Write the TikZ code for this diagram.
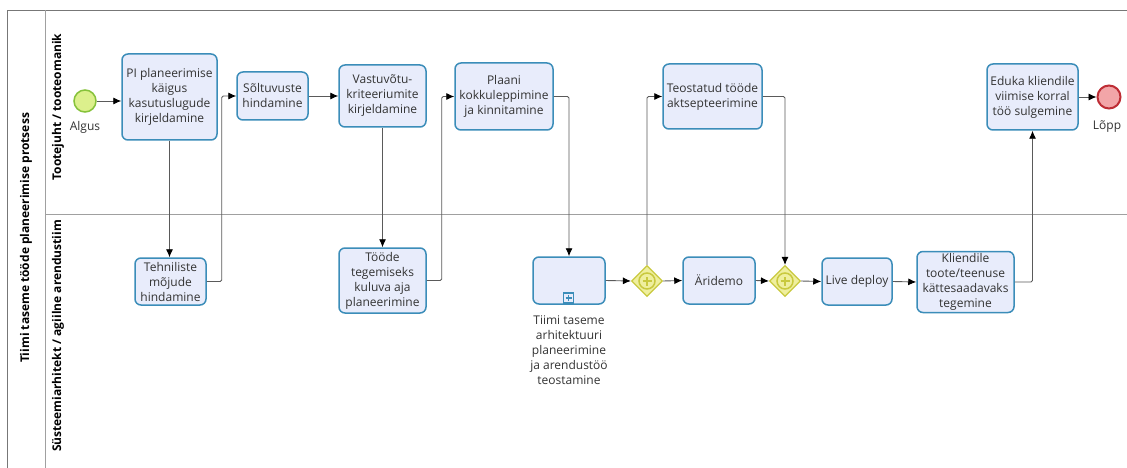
\documentclass[tikz,border=0pt]{standalone}
\usepackage{fontspec}
\setmainfont{Open Sans}
\usetikzlibrary{arrows.meta,shapes.geometric,positioning}
\definecolor{taskfill}{HTML}{E8ECFB}
\definecolor{taskline}{HTML}{3B8DB9}
\definecolor{gwfill}{HTML}{EFEF9E}
\definecolor{gwline}{HTML}{C9C93E}
\definecolor{startfill}{HTML}{DCF08C}
\definecolor{startline}{HTML}{86C23A}
\definecolor{endfill}{HTML}{F2A5A8}
\definecolor{endline}{HTML}{BE2D35}
\definecolor{flowline}{HTML}{5A5A5A}
\definecolor{txt}{HTML}{333333}
\definecolor{poolline}{HTML}{777777}
\tikzset{
  task/.style={draw=taskline, fill=taskfill, line width=1.5pt, rounded corners=6pt,
    align=center, inner sep=2pt, text=txt, font=\fontsize{12}{15}\selectfont},
  gateway/.style={diamond, draw=gwline, fill=gwfill, line width=1.2pt, inner sep=0pt,
    minimum width=31pt, minimum height=31pt},
  startev/.style={circle, draw=startline, fill=startfill, line width=1.5pt, minimum size=22pt, inner sep=0pt},
  endev/.style={circle, draw=endline, fill=endfill, line width=2pt, minimum size=23pt, inner sep=0pt},
  evlabel/.style={text=txt, font=\fontsize{12}{15}\selectfont},
  flow/.style={draw=flowline, line width=0.9pt, -{Latex[length=8pt,width=7pt,fill=black,color=black]}, rounded corners=1.5pt},
  lanelabel/.style={rotate=90, font=\bfseries\fontsize{12}{14}\selectfont, text=black},
  poolrule/.style={draw=poolline, line width=0.8pt}
}
\begin{document}
\begin{tikzpicture}[x=1pt, y=-1pt]
\useasboundingbox (0,0) rectangle (1127,468);
\fill[white] (0,0) rectangle (1127,468);

% pool and lanes
\draw[poolrule] (7,10.5) -- (1127,10.5);
\draw[poolrule] (7,10.5) -- (7,468);
\draw[poolrule, draw=poolline!70] (45,10.5) -- (45,468);
\draw[poolrule, draw=poolline!70] (45,214) -- (1127,214);
\node[lanelabel] (pool) at (26,238) {Tiimi taseme tööde planeerimise protsess};
\node[lanelabel] (laneA) at (58,107) {Tootejuht / tooteomanik};
\node[lanelabel] (laneB) at (58,336) {Süsteemiarhitekt / agiilne arendustiim};

% upper lane
\node[startev] (start) at (85,101) {};
\node[evlabel] (startlbl) at (85,127) {Algus};
\node[task, minimum width=95pt, minimum height=86pt] (t1) at (169.5,97)
  {PI planeerimise\\käigus\\kasutuslugude\\kirjeldamine};
\node[task, minimum width=71pt, minimum height=48pt] (t2) at (272.5,96)
  {Sõltuvuste\\hindamine};
\node[task, minimum width=87pt, minimum height=62pt] (t3) at (382.5,96)
  {Vastuvõtu-\\kriteeriumite\\kirjeldamine};
\node[task, minimum width=98pt, minimum height=67pt] (t4) at (504,96.5)
  {Plaani\\kokkuleppimine\\ja kinnitamine};
\node[task, minimum width=99pt, minimum height=65pt] (t5) at (712.5,96.5)
  {Teostatud tööde\\aktsepteerimine};
\node[task, minimum width=91pt, minimum height=66pt] (t6) at (1032.5,97)
  {Eduka kliendile\\viimise korral\\töö sulgemine};
\node[endev] (end) at (1109,97) {};
\node[evlabel] (endlbl) at (1107,127) {Lõpp};

% lower lane
\node[task, minimum width=71pt, minimum height=47pt] (b1) at (170.5,281.5)
  {Tehniliste\\mõjude\\hindamine};
\node[task, minimum width=87pt, minimum height=65pt] (b2) at (382.5,280.5)
  {Tööde\\tegemiseks\\kuluva aja\\planeerimine};
\node[task, minimum width=72pt, minimum height=47pt] (sub) at (569,280.5) {};
\node[draw=taskline, fill=taskfill, line width=1.2pt, minimum size=10pt, inner sep=0pt] (submark) at (568.5,298) {};
\draw[taskline, line width=1.6pt] ([xshift=-3pt]submark.center) -- ([xshift=3pt]submark.center)
  ([yshift=-3pt]submark.center) -- ([yshift=3pt]submark.center);
\node[evlabel, anchor=north, align=center] (sublbl) at (569,312)
  {Tiimi taseme\\arhitektuuri\\planeerimine\\ja arendustöö\\teostamine};
\node[gateway] (g1) at (647,281) {};
\node[task, minimum width=72pt, minimum height=47pt] (b3) at (719,280.5) {Äridemo};
\node[gateway] (g2) at (785,281) {};
\node[task, minimum width=70pt, minimum height=47pt] (b4) at (857,281.5) {Live deploy};
\node[task, minimum width=97pt, minimum height=60pt] (b5) at (965.5,282)
  {Kliendile\\toote/teenuse\\kättesaadavaks\\tegemine};

% parallel gateway markers
\foreach \g in {g1,g2}{
  \draw[gwline, line width=1.5pt] (\g.center) circle (8pt);
  \draw[gwline, line width=2.5pt] ([xshift=-4.5pt]\g.center) -- ([xshift=4.5pt]\g.center)
    ([yshift=-4.5pt]\g.center) -- ([yshift=4.5pt]\g.center);
}

% sequence flows
\draw[flow] (start) -- (t1.west |- start);
\draw[flow] (t1.south) -- (t1.south |- b1.north);
\draw[flow] (b1.east) -- ++(15,0) |- (t2.west);
\draw[flow] (t2.east) -- (t3.west |- t2.east);
\draw[flow] (t3.south) -- (b2.north);
\draw[flow] (b2.east) -- ++(15,0) |- (t4.west);
\draw[flow] (t4.east) -| (sub.north);
\draw[flow] (sub.east) -- (g1.west);
\draw[flow] (g1.north) |- (t5.west);
\draw[flow] (g1.east) -- (b3.west);
\draw[flow] (b3.east) -- (g2.west);
\draw[flow] (t5.east) -| (g2.north);
\draw[flow] (g2.east) -- (b4.west);
\draw[flow] (b4.east) -- (b5.west);
\draw[flow] (b5.east) -| (t6.south);
\draw[flow] (t6.east) -- (end.west |- t6.east);
\end{tikzpicture}
\end{document}
